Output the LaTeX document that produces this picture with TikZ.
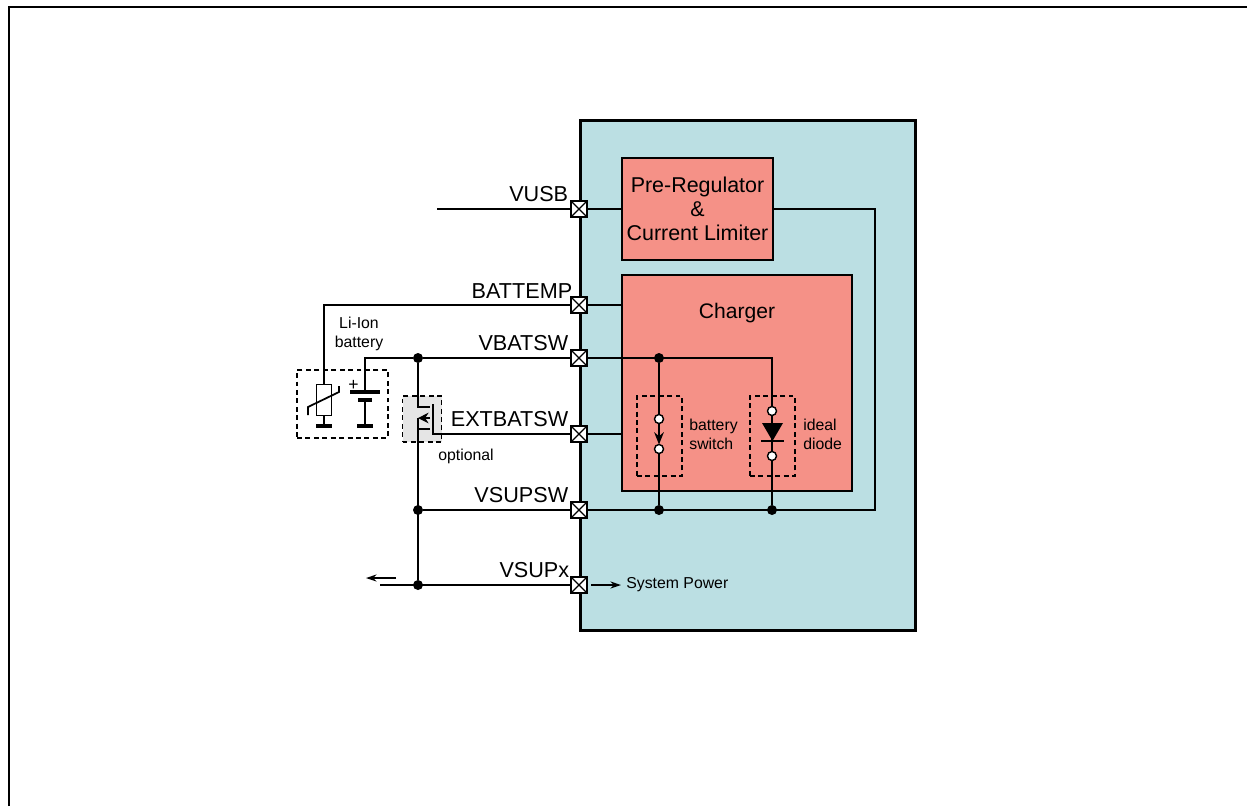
\documentclass[tikz,border=0pt]{standalone}
\usepackage{fontspec}
\setmainfont{Liberation Sans}
\usepackage{xcolor}
\usetikzlibrary{arrows.meta}
\definecolor{chipblue}{RGB}{187, 223, 227}
\definecolor{blockred}{RGB}{245, 145, 135}
\definecolor{fetgrey}{RGB}{229, 229, 229}
\tikzset{
  wire/.style={line width=0.85pt},
  block/.style={draw, line width=1.5pt, fill=blockred, inner sep=0pt, outer sep=0pt, align=center},
  pin/.style={draw, line width=0.8pt, fill=white, minimum size=0.32cm, inner sep=0pt, outer sep=0pt,
    path picture={\draw[line width=0.7pt] (path picture bounding box.south west) -- (path picture bounding box.north east)
      (path picture bounding box.north west) -- (path picture bounding box.south east);}},
  dot/.style={circle, fill=black, minimum size=0.2cm, inner sep=0pt, outer sep=0pt},
  opendot/.style={circle, draw, line width=0.8pt, fill=white, minimum size=0.18cm, inner sep=0pt, outer sep=0pt},
  dashbox/.style={draw, line width=1.1pt, dash pattern=on 2.8pt off 2pt, inner sep=0pt, outer sep=0pt},
  pinlabel/.style={left, inner sep=0pt, font=\fontsize{12.3}{14}\selectfont},
  smalllabel/.style={inner sep=0pt, font=\fontsize{9}{11}\selectfont, align=left}
}
\begin{document}
\begin{tikzpicture}[x=0.02cm, y=-0.02cm]
\useasboundingbox (0,0) rectangle (1247,806);
% Outer frame
\draw[line width=1.2pt] (9,806) -- (9,7) -- (1247,7);

% Chip and inner blocks
\node[draw, line width=1.7pt, fill=chipblue, inner sep=0pt, outer sep=0pt, minimum width=6.72cm, minimum height=10.22cm] (chip) at (748,375.5) {};
\node[block, minimum width=3.02cm, minimum height=2.04cm, font=\fontsize{12.2}{13.8}\selectfont] (prereg) at (697.5,209) {Pre-Regulator\\\&\\Current Limiter};
\node[block, minimum width=4.6cm, minimum height=4.32cm] (charger) at (737,383) {};
\node[font=\fontsize{12}{14}\selectfont, inner sep=0pt] (chargerlabel) at (737,313) {Charger};

% Pins on the chip edge
\node[pin] (pvusb) at (579,209) {};
\node[pin] (pbattemp) at (579,305) {};
\node[pin] (pvbatsw) at (579,358) {};
\node[pin] (pextbatsw) at (579,434) {};
\node[pin] (pvsupsw) at (579,510) {};
\node[pin] (pvsupx) at (579,585) {};

% Pin labels
\node[pinlabel] (lvusb) at (568.5,194) {VUSB};
\node[pinlabel] (lbattemp) at (572.5,291) {BATTEMP};
\node[pinlabel] (lvbatsw) at (568.5,343) {VBATSW};
\node[pinlabel] (lextbatsw) at (568.5,419) {EXTBATSW};
\node[pinlabel] (lvsupsw) at (568.5,495) {VSUPSW};
\node[pinlabel] (lvsupx) at (569.5,570) {VSUPx};

% Junctions
\node[dot] (jvbat) at (418,358) {};
\node[dot] (jvsupsw) at (418,510) {};
\node[dot] (jvsupx) at (418,585) {};
\node[dot] (jswtop) at (659,358) {};
\node[dot] (jswbot) at (659,510) {};
\node[dot] (jdiodebot) at (772,510) {};

% Switch and diode boxes
\node[dashbox, minimum width=0.9cm, minimum height=1.6cm] (swbox) at (659.5,436) {};
\node[dashbox, minimum width=0.9cm, minimum height=1.6cm] (diodebox) at (772.5,436) {};
\node[opendot] (swa) at (659,419) {};
\node[opendot] (swb) at (659,449) {};
\node[opendot] (da) at (772,411) {};
\node[opendot] (db) at (772,456) {};
\node[smalllabel, right] (lswitch) at (689,434.5) {battery\\switch};
\node[smalllabel, right] (ldiode) at (803,434.5) {ideal\\diode};

% Wires inside the chip
\coordinate (vusbend) at (437,209);
\coordinate (pwrcorner) at (875,209);
\draw[wire] (vusbend) -- (pvusb);
\draw[wire] (pvusb) -- (prereg);
\draw[wire] (prereg.east) -- (pwrcorner) |- (pvsupsw);
\draw[wire] (pbattemp) -- (pbattemp -| charger.west);
\draw[wire] (pextbatsw) -- (pextbatsw -| charger.west);
\draw[wire] (pvbatsw) -| (da);
\draw[wire] (jswtop) -- (swa);
\draw[wire, -{Stealth[length=7pt,width=5.5pt]}] (swa) -- (swb);
\draw[wire] (swb) -- (jswbot);
\draw[wire] (da) -- (db);
\draw[wire] (db) -- (jdiodebot);

% Diode symbol
\fill (762,423) -- (783,423) -- (772.5,441) -- cycle;
\draw[wire] (761,441) -- (784,441);

% Optional external switch
\node[dashbox, fill=fetgrey, minimum width=0.78cm, minimum height=0.92cm] (fetbox) at (422,419) {};
\node[smalllabel, right] (loptional) at (438,456) {optional};
\coordinate (fetd) at (418,407);
\coordinate (fetdr) at (430,407);
\coordinate (fets) at (418,418);
\coordinate (fetsr) at (430,418);
\coordinate (fetb) at (418,429);
\coordinate (fetbr) at (430,429);
\coordinate (fetgbot) at (433,434);
\coordinate (fetgtop) at (433,404);
\draw[wire] (jvbat) -- (fetd) -- (fetdr);
\draw[wire] (jvsupx) -- (fets);
\draw[wire, -{Stealth[length=6pt,width=6pt]}] (fetsr) -- (fets);
\draw[wire] (fetb) -- (fetbr);
\draw[wire] (pextbatsw) -- (fetgbot) -- (fetgtop);

% External wires
\coordinate (vsupxend) at (380,585);
\draw[wire] (pvbatsw) -- (jvbat);
\draw[wire] (pvsupsw) -- (jvsupsw);
\draw[wire] (pvsupx) -- (vsupxend);

% Battery pack
\node[dashbox, minimum width=1.82cm, minimum height=1.36cm] (battbox) at (342.5,404) {};
\node[smalllabel, align=center] (lbatt) at (359,334) {Li-Ion\\battery};
\node[draw, line width=1pt, inner sep=0pt, outer sep=0pt, minimum width=0.3cm, minimum height=0.62cm] (therm) at (324,400) {};
\coordinate (thermbase) at (324,426);
\coordinate (plus) at (365,392);
\draw[wire] (pbattemp) -| (therm);
\draw[wire] (therm) -- (thermbase);
\draw[line width=1.9pt] (316,426) -- (332,426);
\draw[line width=1pt] (308,415) -- (308,407) -- (339,392) -- (339,386);
\draw[wire] (jvbat) -| (plus);
\draw[line width=2.2pt] (350,392) -- (380,392);
\draw[line width=2.2pt] (358,400) -- (372,400);
\draw[wire] (365,400) -- (365,426);
\draw[line width=1.9pt] (357,426) -- (373,426);
\node[inner sep=0pt, font=\fontsize{10}{11}\selectfont] (lplus) at (353.5,385) {+};

% System power arrows
\node[smalllabel, right] (lpower) at (626,584.5) {System Power};
\coordinate (powerstart) at (591,585);
\coordinate (powerend) at (621,585);
\draw[wire, -{Stealth[length=6pt,width=4pt]}] (powerstart) -- (powerend);
\coordinate (backstart) at (396,578);
\coordinate (backend) at (366,578);
\draw[wire, -{Stealth[length=6pt,width=4pt]}] (backstart) -- (backend);
\end{tikzpicture}
\end{document}
